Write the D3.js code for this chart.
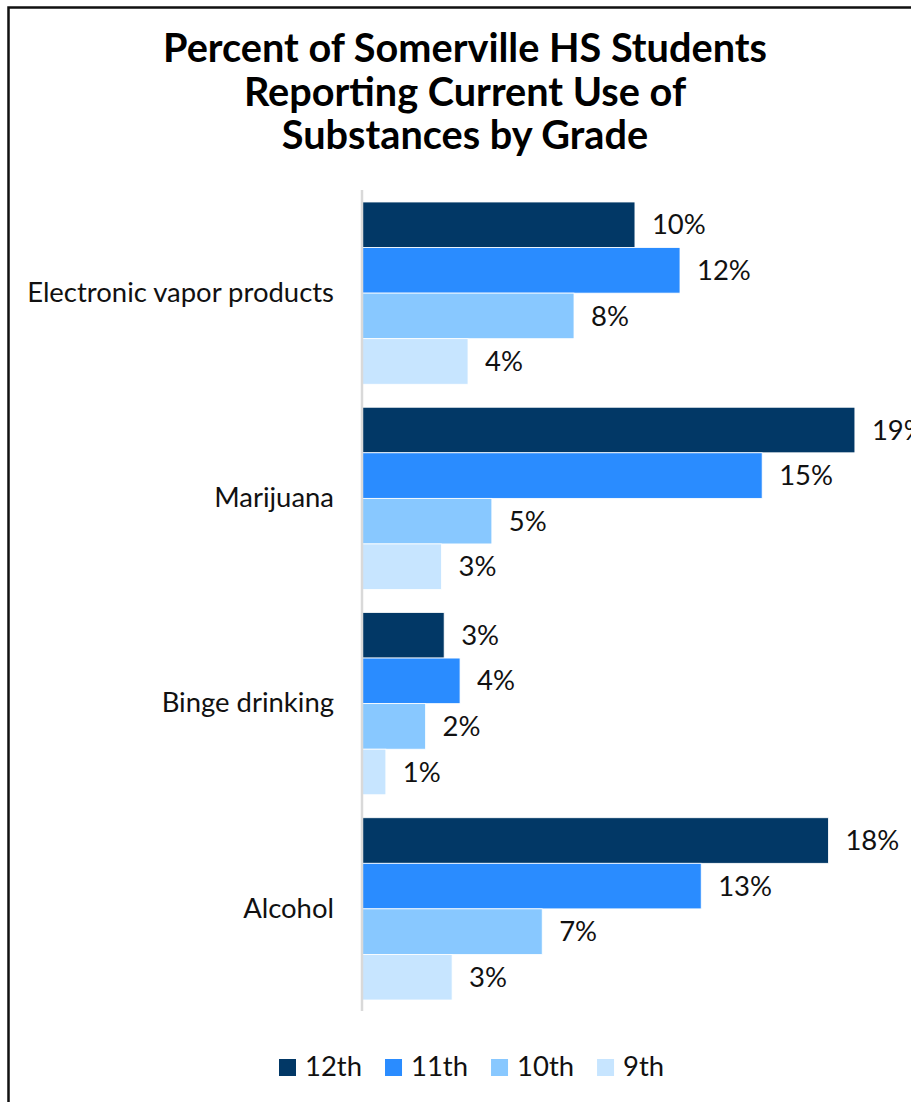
<!DOCTYPE html>
<html>
<head>
<meta charset="utf-8">
<script src="https://cdn.jsdelivr.net/npm/d3@7"></script>
<style>
  html, body { margin: 0; padding: 0; background: #fff; overflow: hidden; }
  svg { display: block; }
  text { font-family: Lato, "Open Sans", sans-serif; }
</style>
</head>
<body>
<svg id="chart" width="911" height="1102"></svg>
<script>
const titleLines = ["Percent of Somerville HS Students", "Reporting Current Use of", "Substances by Grade"];
const categories = ["Electronic vapor products", "Marijuana", "Binge drinking", "Alcohol"];
const grades = ["12th", "11th", "10th", "9th"];
const values12th = [10.3, 18.6, 3.1, 17.6];
const values11th = [12.0, 15.1, 3.7, 12.8];
const values10th = [8.0, 4.9, 2.4, 6.8];
const values9th  = [4.0, 3.0, 0.9, 3.4];
const colors = ["#023866", "#2A8CFF", "#88C8FF", "#C7E5FF"];

const series = [values12th, values11th, values10th, values9th];
const data = categories.map((c, i) => ({
  category: c,
  items: grades.map((g, j) => ({ grade: g, value: series[j][i] }))
}));

const svg = d3.select("#chart");

// frame
svg.append("rect")
  .attr("x", 8.5).attr("y", 7.5)
  .attr("width", 960).attr("height", 1140)
  .attr("fill", "none").attr("stroke", "#111").attr("stroke-width", 2.5);

function fitSize(text, weight, target, base) {
  const t = svg.append("text").attr("font-size", base).attr("font-weight", weight).text(text);
  const w = t.node().getComputedTextLength();
  t.remove();
  return base * target / w;
}

// title
const titleSize = fitSize(titleLines[0], "bold", 604, 32);
svg.append("g").selectAll("text").data(titleLines).join("text")
  .attr("x", 465)
  .attr("y", (d, i) => 62 + i * 43.5)
  .attr("text-anchor", "middle")
  .attr("font-weight", "bold")
  .attr("font-size", titleSize)
  .attr("fill", "#000")
  .text(d => d);

// scales
const x = d3.scaleLinear().domain([0, 20]).range([362, 892]);
const y = d3.scaleBand().domain(categories).range([190.5, 1011.5]).paddingInner(0.112).paddingOuter(0.056);
const yInner = d3.scaleBand().domain(grades).range([0, y.bandwidth()]);
const color = d3.scaleOrdinal().domain(grades).range(colors);

const labelSize = fitSize(categories[0], "normal", 307, 24);

const groups = svg.append("g").selectAll("g").data(data).join("g")
  .attr("transform", d => `translate(0,${y(d.category)})`);

groups.selectAll("rect").data(d => d.items).join("rect")
  .attr("x", x(0))
  .attr("y", d => yInner(d.grade))
  .attr("width", d => x(d.value) - x(0))
  .attr("height", yInner.bandwidth())
  .attr("fill", d => color(d.grade))
  .attr("stroke", "#fff")
  .attr("stroke-width", 0.8);

groups.selectAll("text.val").data(d => d.items).join("text")
  .attr("class", "val")
  .attr("x", d => x(d.value) + 17)
  .attr("y", d => yInner(d.grade) + yInner.bandwidth() / 2)
  .attr("dy", "0.35em")
  .attr("font-size", labelSize)
  .attr("fill", "#111")
  .text(d => Math.round(d.value) + "%");

// category axis
const yAxis = d3.axisLeft(y).tickSize(0).tickPadding(28);
const axisG = svg.append("g").attr("transform", `translate(${x(0)},0)`).call(yAxis);
axisG.select(".domain").remove();
axisG.selectAll("text")
  .attr("font-size", labelSize)
  .attr("fill", "#111")
  .attr("font-family", "Lato, 'Open Sans', sans-serif");

svg.append("line")
  .attr("x1", x(0)).attr("x2", x(0))
  .attr("y1", 190).attr("y2", 1011)
  .attr("stroke", "#d9d9d9").attr("stroke-width", 2.5);

// legend
const legend = svg.append("g");
let lx = 279;
grades.forEach((g, i) => {
  legend.append("rect")
    .attr("x", lx).attr("y", 1059)
    .attr("width", 17).attr("height", 17)
    .attr("fill", color(g));
  const t = legend.append("text")
    .attr("x", lx + 26).attr("y", 1076)
    .attr("font-size", labelSize)
    .attr("fill", "#111")
    .text(g);
  lx += 26 + t.node().getComputedTextLength() + 23;
});
</script>
</body>
</html>
